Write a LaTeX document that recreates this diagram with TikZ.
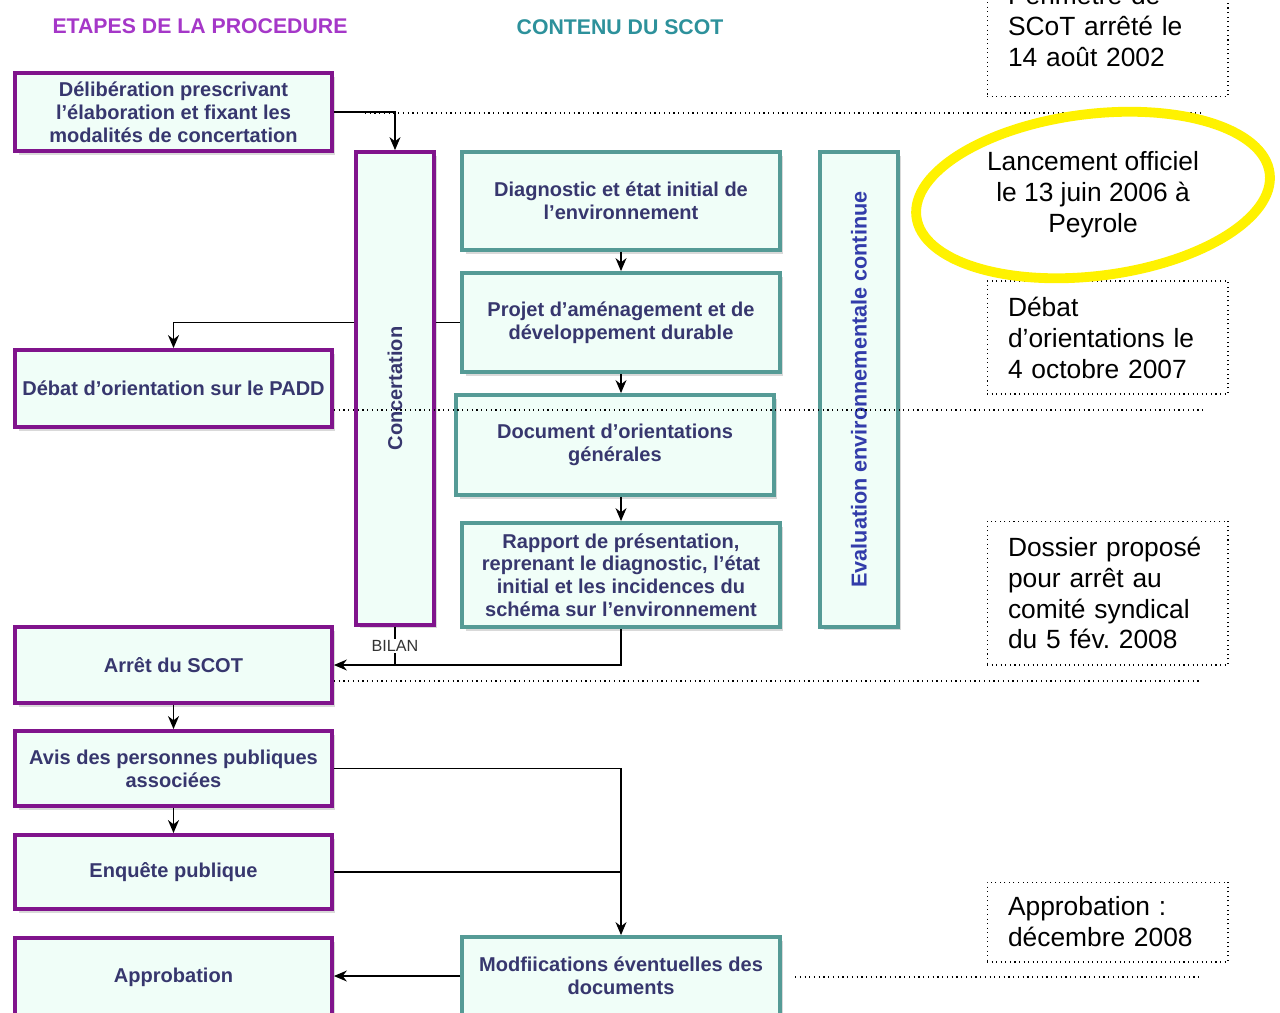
\documentclass[tikz,border=0pt]{standalone}
\usepackage{fontspec}
\setmainfont{Liberation Sans}
\usetikzlibrary{arrows.meta,positioning,shapes.geometric,shadows}
\definecolor{plum}{RGB}{128,20,140}
\definecolor{sea}{RGB}{85,155,150}
\definecolor{mint}{RGB}{240,254,248}
\definecolor{ink}{RGB}{55,55,110}
\definecolor{orchid}{RGB}{165,55,200}
\definecolor{lagoon}{RGB}{45,145,155}
\definecolor{evalblue}{RGB}{50,60,170}
\definecolor{halo}{RGB}{255,242,0}
\tikzset{
  stage/.style={draw=plum,line width=2.2pt,fill=mint,text=ink,font=\bfseries\fontsize{11.4}{13}\selectfont,align=center,minimum width=6.34cm,inner sep=2pt,drop shadow={shadow xshift=2pt,shadow yshift=-2pt,opacity=0.3}},
  part/.style={stage,draw=sea,minimum width=6.36cm},
  column/.style={stage,minimum width=1.55cm},
  vtext/.style={rotate=90,text=ink,font=\bfseries\fontsize{11.4}{13}\selectfont},
  heading/.style={font=\bfseries\fontsize{12.1}{14}\selectfont},
  datebox/.style={draw,dotted,line width=0.6pt,align=left,font=\fontsize{15}{17.6}\selectfont,text width=3.98cm,inner xsep=0.42cm},
  arr/.style={-{Stealth[length=2.6mm,width=2.2mm]},line width=0.8pt},
  link/.style={line width=0.8pt},
  guide/.style={dotted,line width=0.7pt}
}

\begin{document}
\begin{tikzpicture}[x=0.02cm,y=-0.02cm]
  \useasboundingbox (0,0) rectangle (1280,1012);

  % headings
  \node[heading,text=orchid] (steps) at (200,26) {ETAPES DE LA PROCEDURE};
  \node[heading,text=lagoon] (content) at (620,27) {CONTENU DU SCOT};

  % procedure steps
  \node[stage,minimum height=1.56cm] (delib) at (173.5,112) {Délibération prescrivant\\l'élaboration et fixant les\\modalités de concertation};
  \node[stage,minimum height=1.54cm] (debat) at (173.5,388.5) {Débat d'orientation sur le PADD};
  \node[stage,minimum height=1.52cm] (arret) at (173.5,665) {Arrêt du SCOT};
  \node[stage,minimum height=1.5cm] (avis) at (173.5,768.5) {Avis des personnes publiques\\associées};
  \node[stage,minimum height=1.48cm] (enq) at (173.5,872) {Enquête publique};
  \node[stage,minimum height=1.56cm] (appro) at (173.5,977) {Approbation};

  \node[column,minimum height=9.46cm] (conc) at (395,388.5) {};
  \node[vtext] (conc-t) at (conc.center) {Concertation};

  % contents
  \node[part,minimum height=1.96cm] (diag) at (621,201) {Diagnostic et état initial de\\l'environnement};
  \node[part,minimum height=1.98cm] (padd) at (621,322.5) {Projet d'aménagement et de\\développement durable};
  \node[part,minimum height=2cm] (doc) at (615,445) {Document d'orientations\\générales};
  \node[part,minimum height=2.08cm] (rapp) at (621,575) {Rapport de présentation,\\reprenant le diagnostic, l'état\\initial et les incidences du\\schéma sur l'environnement};
  \node[part,minimum height=1.56cm] (modif) at (621,976) {Modfiications éventuelles des\\documents};

  \node[column,draw=sea,minimum height=9.5cm] (eval) at (859,389.5) {};
  \node[vtext,text=evalblue,font=\bfseries\fontsize{12.3}{14}\selectfont] (eval-t) at (eval.center) {Evaluation environnementale continue};

  % connectors
  \draw[arr] (delib.east) -| (conc.north);
  \draw[arr] (conc.west |- padd.west) -| (debat.north);
  \draw[link] (conc.east |- padd.west) -- (padd.west);
  \draw[arr] (diag.south) -- (padd.north);
  \draw[arr] (padd.south) -- (padd.south |- doc.north);
  \draw[arr] (doc.south -| rapp.north) -- (rapp.north);
  \draw[arr] (rapp.south) |- (arret.east);
  \draw[link] (conc.south) -- (conc.south |- arret.east)
    node[pos=0.5,fill=white,inner sep=1pt,text=black!80,font=\fontsize{9.2}{10}\selectfont] (bilan) {BILAN};
  \draw[arr] (arret.south) -- (avis.north);
  \draw[arr] (avis.south) -- (enq.north);
  \draw[arr] (avis.east) -| (modif.north);
  \draw[link] (enq.east) -- (enq.east -| modif.north);
  \draw[arr] (modif.west) -- (modif.west -| appro.east);

  % dates
  \node[datebox,anchor=south] (perim) at (1107.5,97) {Périmètre de\\SCoT arrêté le\\14 août 2002\\[-4pt]\mbox{}};
  \node[datebox,minimum height=2.26cm] (pad-date) at (1107.5,337.5) {Débat\\d’orientations le\\4 octobre 2007};
  \node[datebox,minimum height=2.88cm] (stop-date) at (1107.5,593) {Dossier proposé\\pour arrêt au\\comité syndical\\du 5 fév.\ 2008};
  \node[datebox,minimum height=1.6cm] (end-date) at (1107.5,922) {Approbation :\\décembre 2008};

  % time marks
  \coordinate (g1a) at (365,113);  \coordinate (g1b) at (1200,113);
  \coordinate (g2a) at (334,410);  \coordinate (g2b) at (1205,410);
  \coordinate (g3a) at (334,681);  \coordinate (g3b) at (1200,681);
  \coordinate (g4a) at (795,977);  \coordinate (g4b) at (1200,977);
  \draw[guide] (g1a) -- (g1b);
  \draw[guide] (g2a) -- (g2b);
  \draw[guide] (g3a) -- (g3b);
  \draw[guide] (g4a) -- (g4b);

  \node[align=center,font=\fontsize{15}{17.6}\selectfont] (launch) at (1093,195) {Lancement officiel\\le 13 juin 2006 à\\Peyrole};
  \draw[halo,line width=5.6pt,rotate around={7:(launch.center)}] (launch.center) ellipse [x radius=3.56cm,y radius=1.62cm];
\end{tikzpicture}
\end{document}
